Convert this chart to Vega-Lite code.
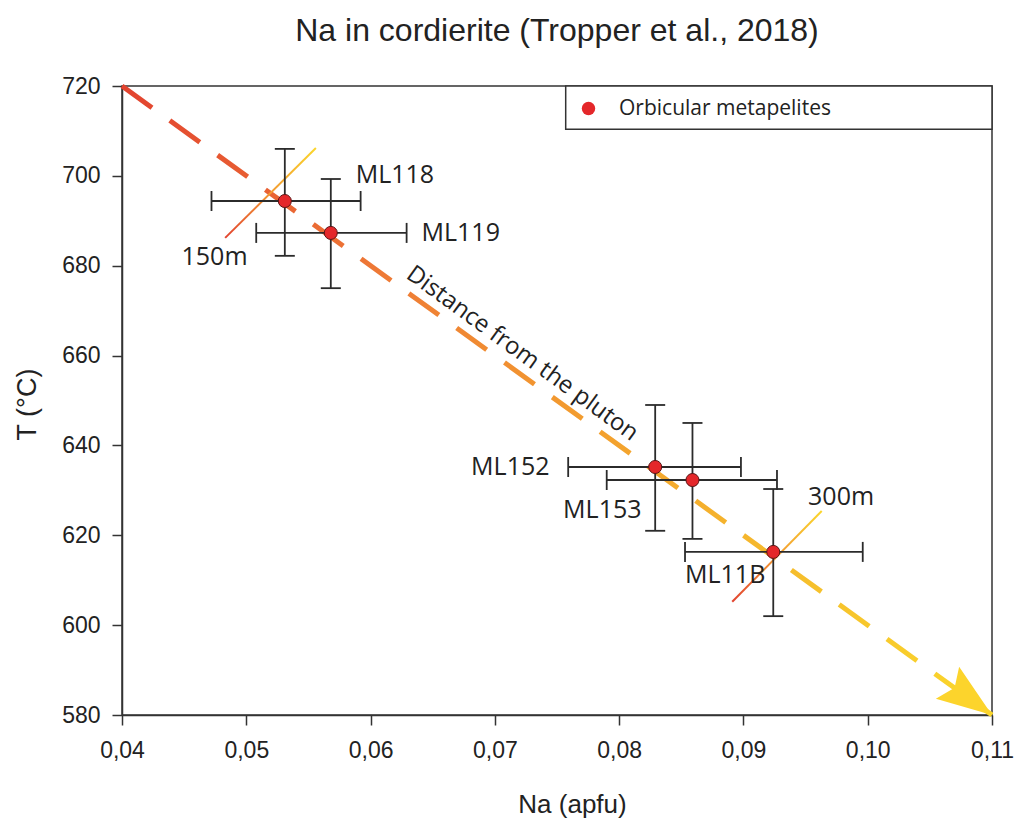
{
  "$schema": "https://vega.github.io/schema/vega-lite/v6.json",
  "width": 870,
  "height": 629,
  "autosize": {"type": "none"},
  "padding": {"left": 122, "top": 86, "right": 25, "bottom": 108},
  "background": "white",
  "title": {
    "text": "Na in cordierite (Tropper et al., 2018)",
    "font": "Liberation Sans",
    "fontSize": 32,
    "fontWeight": "normal",
    "color": "#222222",
    "anchor": "middle",
    "frame": "group",
    "baseline": "alphabetic",
    "offset": 2
  },
  "config": {
    "view": {"stroke": "#333333", "strokeWidth": 1.5},
    "axis": {
      "grid": false,
      "labelFont": "Liberation Sans",
      "labelFontSize": 23,
      "labelColor": "#222222",
      "labelFlush": false,
      "labelOverlap": false,
      "domainColor": "#333333",
      "domainWidth": 1.5,
      "tickColor": "#333333",
      "tickWidth": 1.5,
      "tickSize": 10,
      "titleFont": "Liberation Sans",
      "titleFontWeight": "normal",
      "titleColor": "#222222"
    }
  },
  "datasets": {
    "samples": [
      {"sample": "ML118", "group": "Orbicular metapelites", "na": 0.0531, "t": 694.4, "na_lo": 0.0472, "na_hi": 0.0592, "t_lo": 682.2, "t_hi": 706.0},
      {"sample": "ML119", "group": "Orbicular metapelites", "na": 0.0568, "t": 687.3, "na_lo": 0.0508, "na_hi": 0.0629, "t_lo": 675.0, "t_hi": 699.3},
      {"sample": "ML152", "group": "Orbicular metapelites", "na": 0.0829, "t": 635.2, "na_lo": 0.0759, "na_hi": 0.0898, "t_lo": 621.0, "t_hi": 649.0},
      {"sample": "ML153", "group": "Orbicular metapelites", "na": 0.0859, "t": 632.3, "na_lo": 0.0790, "na_hi": 0.0927, "t_lo": 619.2, "t_hi": 645.0},
      {"sample": "ML11B", "group": "Orbicular metapelites", "na": 0.0924, "t": 616.3, "na_lo": 0.0853, "na_hi": 0.0996, "t_lo": 602.0, "t_hi": 630.3}
    ],
    "trend": [
      {"na": 0.04, "t": 720},
      {"na": 0.11, "t": 580}
    ],
    "dist": [
      {"dist": "150m", "na": 0.0483, "t": 686.2},
      {"dist": "150m", "na": 0.0556, "t": 706.2},
      {"dist": "300m", "na": 0.0891, "t": 605.2},
      {"dist": "300m", "na": 0.0963, "t": 625.4}
    ],
    "labels": [
      {"text": "ML118", "side": "left", "na": 0.0588, "t": 700.2},
      {"text": "ML119", "side": "left", "na": 0.0641, "t": 687.3},
      {"text": "ML11B", "side": "left", "na": 0.0853, "t": 611.2},
      {"text": "300m", "side": "left", "na": 0.0952, "t": 628.5},
      {"text": "150m", "side": "right", "na": 0.0501, "t": 681.9},
      {"text": "ML152", "side": "right", "na": 0.0744, "t": 635.2},
      {"text": "ML153", "side": "right", "na": 0.0818, "t": 625.6},
      {"text": "Distance from the pluton", "side": "along", "na": 0.0722, "t": 660.4}
    ]
  },
  "layer": [
    {
      "data": {"name": "trend"},
      "mark": {
        "type": "line",
        "strokeWidth": 5,
        "strokeDash": [37, 22],
        "strokeCap": "butt",
        "stroke": {
          "gradient": "linear",
          "x1": 0, "y1": 0, "x2": 1, "y2": 1,
          "stops": [
            {"offset": 0, "color": "#e2432f"},
            {"offset": 0.3, "color": "#ee7a36"},
            {"offset": 0.55, "color": "#f3a02e"},
            {"offset": 0.8, "color": "#f6c12c"},
            {"offset": 1, "color": "#fbd82c"}
          ]
        }
      },
      "encoding": {
        "x": {
          "field": "na", "type": "quantitative",
          "scale": {"domain": [0.04, 0.11], "nice": false, "zero": false},
          "axis": {
            "title": "Na (apfu)",
            "values": [0.04, 0.05, 0.06, 0.07, 0.08, 0.09, 0.10, 0.11],
            "labelExpr": "replace(format(datum.value, '.2f'), '.', ',')",
            "labelPadding": 14,
            "titleFontSize": 26,
            "titleX": 450,
            "titleY": 97,
            "titleBaseline": "alphabetic",
            "titleAlign": "center"
          }
        },
        "y": {
          "field": "t", "type": "quantitative",
          "scale": {"domain": [580, 720], "nice": false, "zero": false},
          "axis": {
            "title": "T (°C)",
            "values": [580, 600, 620, 640, 660, 680, 700, 720],
            "labelPadding": 12,
            "titleFontSize": 27,
            "titleAngle": -90,
            "titleX": -87,
            "titleY": 318,
            "titleBaseline": "alphabetic",
            "titleAlign": "center"
          }
        }
      }
    },
    {
      "data": {"values": [{"box": "legend frame"}]},
      "mark": {"type": "rect", "fill": "white", "stroke": "#333333", "strokeWidth": 1.5},
      "encoding": {
        "x": {"datum": 0.0757, "type": "quantitative"},
        "x2": {"datum": 0.11},
        "y": {"datum": 720, "type": "quantitative"},
        "y2": {"datum": 710.4}
      }
    },
    {
      "data": {"name": "trend"},
      "transform": [{"filter": "datum.t == 580"}],
      "mark": {
        "type": "point",
        "filled": true,
        "shape": "M0,0 L-1,-0.36 L-0.84,0 L-1,0.36 Z",
        "size": 12100,
        "angle": 36,
        "fill": "#fcd42c",
        "opacity": 1,
        "strokeWidth": 0
      },
      "encoding": {
        "x": {"field": "na", "type": "quantitative"},
        "y": {"field": "t", "type": "quantitative"}
      }
    },
    {
      "data": {"name": "dist"},
      "mark": {
        "type": "line",
        "strokeWidth": 2,
        "stroke": {
          "gradient": "linear",
          "x1": 0, "y1": 1, "x2": 1, "y2": 0,
          "stops": [
            {"offset": 0, "color": "#e2432f"},
            {"offset": 0.5, "color": "#f29a33"},
            {"offset": 1, "color": "#fbd62c"}
          ]
        }
      },
      "encoding": {
        "x": {"field": "na", "type": "quantitative"},
        "y": {"field": "t", "type": "quantitative"},
        "detail": {"field": "dist", "type": "nominal"}
      }
    },
    {
      "data": {"name": "samples"},
      "mark": {"type": "rule", "color": "#2b2b2b", "strokeWidth": 1.8},
      "encoding": {
        "x": {"field": "na_lo", "type": "quantitative"},
        "x2": {"field": "na_hi"},
        "y": {"field": "t", "type": "quantitative"}
      }
    },
    {
      "data": {"name": "samples"},
      "mark": {"type": "rule", "color": "#2b2b2b", "strokeWidth": 1.8},
      "encoding": {
        "x": {"field": "na", "type": "quantitative"},
        "y": {"field": "t_lo", "type": "quantitative"},
        "y2": {"field": "t_hi"}
      }
    },
    {
      "data": {"name": "samples"},
      "mark": {"type": "tick", "orient": "vertical", "size": 20, "thickness": 1.8, "color": "#2b2b2b", "opacity": 1},
      "encoding": {
        "x": {"field": "na_lo", "type": "quantitative"},
        "y": {"field": "t", "type": "quantitative"}
      }
    },
    {
      "data": {"name": "samples"},
      "mark": {"type": "tick", "orient": "vertical", "size": 20, "thickness": 1.8, "color": "#2b2b2b", "opacity": 1},
      "encoding": {
        "x": {"field": "na_hi", "type": "quantitative"},
        "y": {"field": "t", "type": "quantitative"}
      }
    },
    {
      "data": {"name": "samples"},
      "mark": {"type": "tick", "orient": "horizontal", "size": 20, "thickness": 1.8, "color": "#2b2b2b", "opacity": 1},
      "encoding": {
        "x": {"field": "na", "type": "quantitative"},
        "y": {"field": "t_lo", "type": "quantitative"}
      }
    },
    {
      "data": {"name": "samples"},
      "mark": {"type": "tick", "orient": "horizontal", "size": 20, "thickness": 1.8, "color": "#2b2b2b", "opacity": 1},
      "encoding": {
        "x": {"field": "na", "type": "quantitative"},
        "y": {"field": "t_hi", "type": "quantitative"}
      }
    },
    {
      "data": {"name": "samples"},
      "mark": {"type": "point", "filled": true, "shape": "circle", "size": 170, "stroke": "#5a1515", "strokeWidth": 1, "opacity": 1},
      "encoding": {
        "x": {"field": "na", "type": "quantitative"},
        "y": {"field": "t", "type": "quantitative"},
        "color": {
          "field": "group", "type": "nominal",
          "scale": {"range": ["#e4272a"]},
          "legend": {
            "title": null,
            "orient": "none",
            "legendX": 444,
            "legendY": 0,
            "direction": "vertical",
            "padding": 12,
            "symbolType": "circle",
            "symbolSize": 180,
            "symbolStrokeWidth": 0,
            "symbolOpacity": 1,
            "labelFont": "Open Sans",
            "labelFontSize": 21,
            "labelColor": "#222222",
            "labelOffset": 20,
            "labelLimit": 600
          }
        }
      }
    },
    {
      "data": {"name": "labels"},
      "transform": [{"filter": "datum.side == 'left'"}],
      "mark": {"type": "text", "align": "left", "baseline": "middle", "font": "Open Sans", "fontSize": 25, "color": "#222222"},
      "encoding": {
        "x": {"field": "na", "type": "quantitative"},
        "y": {"field": "t", "type": "quantitative"},
        "text": {"field": "text"}
      }
    },
    {
      "data": {"name": "labels"},
      "transform": [{"filter": "datum.side == 'right'"}],
      "mark": {"type": "text", "align": "right", "baseline": "middle", "font": "Open Sans", "fontSize": 25, "color": "#222222"},
      "encoding": {
        "x": {"field": "na", "type": "quantitative"},
        "y": {"field": "t", "type": "quantitative"},
        "text": {"field": "text"}
      }
    },
    {
      "data": {"name": "labels"},
      "transform": [{"filter": "datum.side == 'along'"}],
      "mark": {"type": "text", "align": "center", "baseline": "middle", "angle": 36, "font": "Open Sans", "fontSize": 24, "color": "#222222"},
      "encoding": {
        "x": {"field": "na", "type": "quantitative"},
        "y": {"field": "t", "type": "quantitative"},
        "text": {"field": "text"}
      }
    }
  ]
}
